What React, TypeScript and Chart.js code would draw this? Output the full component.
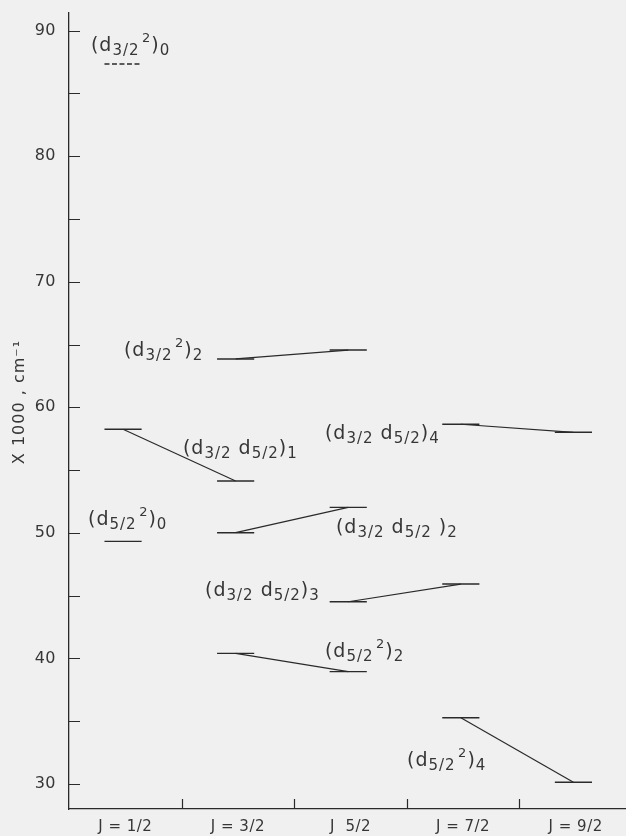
import React, { useEffect, useRef } from 'react';
import { Chart, registerables } from 'chart.js';

Chart.register(...registerables);

// ---- categories / axes ----
const J_LABELS = ['J = 1/2', 'J = 3/2', 'J  5/2', 'J = 7/2', 'J = 9/2'];
const J_VALUES = [1, 2, 3, 4, 5];
const J_BOUNDS = [1.5, 2.5, 3.5, 4.5];
const Y_TICKS = [30, 35, 40, 45, 50, 55, 60, 65, 70, 75, 80, 85, 90];
const Y_TITLE = 'X 1000 , cm\u207B\u00B9';

// ---- energy levels (x1000 cm-1), J position and energy per term ----
const D32SQ_0_J = [1];
const D32SQ_0_E = [87.35];
const D32SQ_2_J = [2, 3];
const D32SQ_2_E = [63.85, 64.56];
const D32D52_1_J = [1, 2];
const D32D52_1_E = [58.25, 54.13];
const D52SQ_0_J = [1];
const D52SQ_0_E = [49.32];
const D32D52_2_J = [2, 3];
const D32D52_2_E = [50.01, 52.03];
const D32D52_4_J = [4, 5];
const D32D52_4_E = [58.65, 58.01];
const D32D52_3_J = [3, 4];
const D32D52_3_E = [44.51, 45.92];
const D52SQ_2_J = [2, 3];
const D52SQ_2_E = [40.40, 38.94];
const D52SQ_4_J = [4, 5];
const D52SQ_4_E = [35.27, 30.13];

type Term = { j: number[]; e: number[]; dashed?: boolean };
const TERMS: Term[] = [
  { j: D32SQ_0_J, e: D32SQ_0_E, dashed: true },
  { j: D32SQ_2_J, e: D32SQ_2_E },
  { j: D32D52_1_J, e: D32D52_1_E },
  { j: D52SQ_0_J, e: D52SQ_0_E },
  { j: D32D52_2_J, e: D32D52_2_E },
  { j: D32D52_4_J, e: D32D52_4_E },
  { j: D32D52_3_J, e: D32D52_3_E },
  { j: D52SQ_2_J, e: D52SQ_2_E },
  { j: D52SQ_4_J, e: D52SQ_4_E },
];

// ---- term labels: n = normal, b = subscript, p = superscript ----
type Seg = [string, 'n' | 'b' | 'p'];
const LABELS: { segs: Seg[]; x: number; y: number }[] = [
  { segs: [['(d', 'n'], ['3/2', 'b'], ['2', 'p'], [')', 'n'], ['0', 'b']], x: 0.695, y: 88.38 },
  { segs: [['(d', 'n'], ['3/2', 'b'], ['2', 'p'], [')', 'n'], ['2', 'b']], x: 0.988, y: 64.09 },
  { segs: [['(d', 'n'], ['3/2', 'b'], [' d', 'n'], ['5/2', 'b'], [')', 'n'], ['1', 'b']], x: 1.512, y: 56.28 },
  { segs: [['(d', 'n'], ['5/2', 'b'], ['2', 'p'], [')', 'n'], ['0', 'b']], x: 0.669, y: 50.62 },
  { segs: [['(d', 'n'], ['3/2', 'b'], [' d', 'n'], ['5/2', 'b'], [' )', 'n'], ['2', 'b']], x: 2.871, y: 49.99 },
  { segs: [['(d', 'n'], ['3/2', 'b'], [' d', 'n'], ['5/2', 'b'], [')', 'n'], ['4', 'b']], x: 2.773, y: 57.47 },
  { segs: [['(d', 'n'], ['3/2', 'b'], [' d', 'n'], ['5/2', 'b'], [')', 'n'], ['3', 'b']], x: 1.708, y: 44.97 },
  { segs: [['(d', 'n'], ['5/2', 'b'], ['2', 'p'], [')', 'n'], ['2', 'b']], x: 2.773, y: 40.11 },
  { segs: [['(d', 'n'], ['5/2', 'b'], ['2', 'p'], [')', 'n'], ['4', 'b']], x: 3.502, y: 31.42 },
];

// ---- styles ----
const FONT = '"DejaVu Sans", sans-serif';
const BG = '#f0f0f0';
const INK = '#2a2a2a';
const TEXT = '#363636';
const LEVEL_LEFT = 0.185;
const LEVEL_RIGHT = 0.145;
const LEVEL_SHIFT = -0.02;

function buildDatasets() {
  const ds: any[] = [];
  TERMS.forEach((t) => {
    t.j.forEach((j, i) => {
      ds.push({
        data: [
          { x: j - LEVEL_LEFT, y: t.e[i] },
          { x: j + LEVEL_RIGHT, y: t.e[i] },
        ],
        borderColor: INK,
        borderWidth: 1.4,
        borderDash: t.dashed ? [5, 2.5] : [],
        pointRadius: 0,
        fill: false,
        tension: 0,
      });
    });
    if (t.j.length > 1) {
      ds.push({
        data: t.j.map((j, i) => ({ x: j + LEVEL_SHIFT, y: t.e[i] })),
        borderColor: INK,
        borderWidth: 1.2,
        pointRadius: 0,
        fill: false,
        tension: 0,
      });
    }
  });
  return ds;
}

const decoPlugin = {
  id: 'deco',
  beforeDraw(chart: any) {
    const ctx = chart.ctx;
    ctx.save();
    ctx.fillStyle = BG;
    ctx.fillRect(0, 0, chart.width, chart.height);
    ctx.restore();
    ctx.letterSpacing = '0.5px';
  },
  afterDraw(chart: any) {
    const { ctx, chartArea } = chart;
    const xs = chart.scales.x;
    const ys = chart.scales.y;
    ctx.save();
    ctx.strokeStyle = INK;
    ctx.lineWidth = 1.2;
    ctx.beginPath();
    Y_TICKS.forEach((v) => {
      const py = Math.round(ys.getPixelForValue(v)) + 0.5;
      ctx.moveTo(chartArea.left, py);
      ctx.lineTo(chartArea.left + 11, py);
    });
    J_BOUNDS.forEach((v) => {
      const px = Math.round(xs.getPixelForValue(v)) + 0.5;
      ctx.moveTo(px, chartArea.bottom);
      ctx.lineTo(px, chartArea.bottom - 10);
    });
    ctx.stroke();

    // term labels
    ctx.fillStyle = TEXT;
    ctx.textBaseline = 'alphabetic';
    ctx.textAlign = 'left';
    ctx.letterSpacing = '1px';
    LABELS.forEach((lab) => {
      let px = xs.getPixelForValue(lab.x);
      const base = ys.getPixelForValue(lab.y);
      lab.segs.forEach(([t, k]) => {
        let size = 19;
        let dy = 0;
        if (k === 'b') { size = 15; dy = 4; }
        if (k === 'p') { size = 13; dy = -9; px += 2.5; }
        ctx.font = `${size}px ${FONT}`;
        ctx.fillText(t, px, base + dy);
        px += ctx.measureText(t).width;
      });
    });

    // y axis title
    ctx.font = `16px ${FONT}`;
    ctx.letterSpacing = '1px';
    ctx.textAlign = 'center';
    ctx.textBaseline = 'middle';
    ctx.translate(20, 402);
    ctx.rotate(-Math.PI / 2);
    ctx.fillText(Y_TITLE, 0, 0);
    ctx.restore();
  },
};

export default function App() {
  const ref = useRef<HTMLCanvasElement | null>(null);
  useEffect(() => {
    document.body.style.margin = '0';
    document.body.style.background = BG;
    const canvas = ref.current;
    if (!canvas) return;
    const chart = new Chart(canvas, {
      type: 'line',
      data: { datasets: buildDatasets() },
      options: {
        animation: false,
        responsive: false,
        devicePixelRatio: 1,
        layout: { padding: { top: 13, right: 0, left: 0, bottom: 0 } },
        plugins: { legend: { display: false }, tooltip: { enabled: false } },
        scales: {
          x: {
            type: 'linear',
            min: 0.5,
            max: 5.447,
            grid: { display: false, drawTicks: false },
            border: { display: true, color: INK, width: 1.3 },
            afterBuildTicks: (s: any) => { s.ticks = J_VALUES.map((v) => ({ value: v })); },
            afterFit: (s: any) => {
              s.height = 27;
              s.paddingLeft = 0;
              s.paddingRight = 0;
            },
            ticks: {
              autoSkip: false,
              maxRotation: 0,
              padding: 9,
              color: TEXT,
              font: { family: FONT, size: 15 },
              callback: (v: any) => { const i = J_VALUES.indexOf(Number(v)); return i >= 0 ? J_LABELS[i] : ''; },
            },
          },
          y: {
            type: 'linear',
            min: 28,
            max: 91.41,
            grid: { display: false, drawTicks: false },
            border: { display: true, color: INK, width: 1.3 },
            afterBuildTicks: (s: any) => { s.ticks = Y_TICKS.map((v) => ({ value: v })); },
            afterFit: (s: any) => {
              s.width = 69;
              s.paddingTop = 0;
              s.paddingBottom = 0;
            },
            ticks: {
              autoSkip: false,
              padding: 13,
              color: TEXT,
              font: { family: FONT, size: 16 },
              callback: (v: any) => (Number(v) % 10 === 0 ? String(v) : ''),
            },
          },
        },
      },
      plugins: [decoPlugin],
    });
    return () => chart.destroy();
  }, []);
  return <canvas ref={ref} width={626} height={836} style={{ display: 'block', width: 626, height: 836 }} />;
}
